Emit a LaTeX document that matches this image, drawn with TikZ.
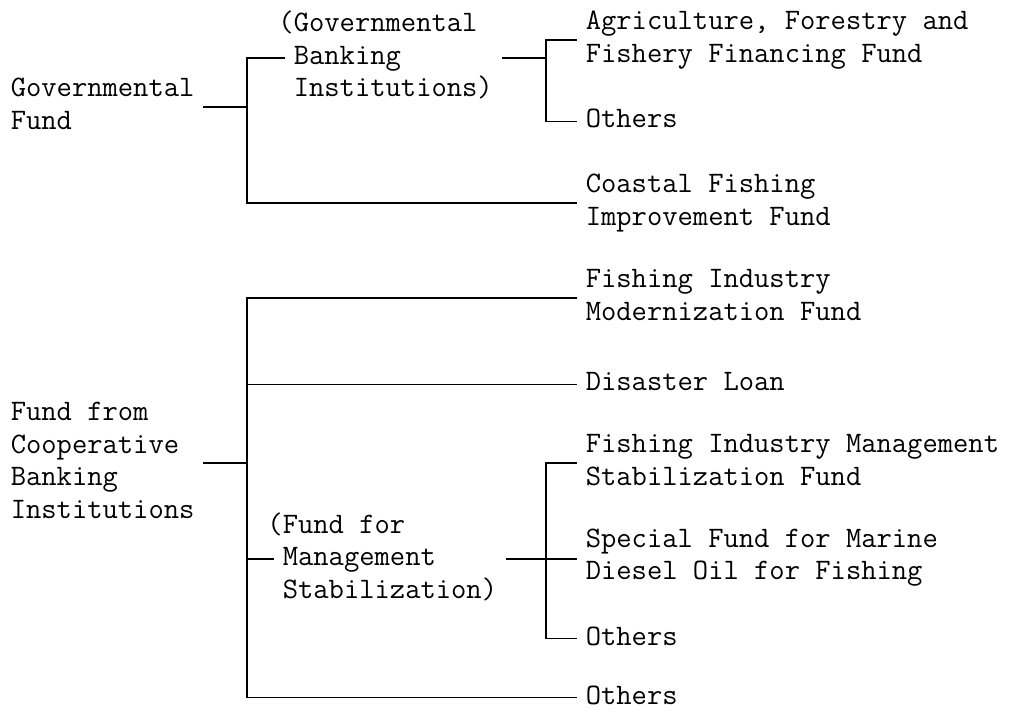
\documentclass[tikz,border=0pt]{standalone}
\usetikzlibrary{positioning}
\newcommand{\rows}[1]{\begin{tabular}[t]{@{}l@{}}#1\end{tabular}}

\begin{document}
\begin{tikzpicture}[
  x=0.5pt, y=-0.5pt, line width=0.8pt,
  lbl/.style={anchor=base west, inner xsep=4pt, inner ysep=0pt,
              font=\fontsize{14.86}{16.25}\selectfont\ttfamily},
]
  \useasboundingbox (0,0) rectangle (1022,715);
  % bracket spines
  \coordinate (s1) at (247,0);  \coordinate (s2) at (546,0);
  \coordinate (s3) at (247,0);  \coordinate (s4) at (546,0);

  % governmental side
  \node[lbl] (gov)     at (2,97)    {\rows{Governmental\\Fund}};
  \node[lbl] (gbi)     at (285,32)  {\rows{\llap{(}Governmental\\Banking\\Institutions)}};
  \node[lbl] (agri)    at (577,30)  {\rows{Agriculture, Forestry and\\Fishery Financing Fund}};
  \node[lbl] (oth1)    at (577,128) {\rows{Others}};
  \node[lbl] (coastal) at (577,193) {\rows{Coastal Fishing\\Improvement Fund}};

  % cooperative side
  \node[lbl] (coop)    at (2,421)   {\rows{Fund from\\Cooperative\\Banking\\Institutions}};
  \node[lbl] (fimf)    at (577,288) {\rows{Fishing Industry\\Modernization Fund}};
  \node[lbl] (loan)    at (577,391) {\rows{Disaster Loan}};
  \node[lbl] (fms)     at (274,533) {\rows{\llap{(}Fund for\\Management\\Stabilization)}};
  \node[lbl] (fims)    at (577,453) {\rows{Fishing Industry Management\\Stabilization Fund}};
  \node[lbl] (oil)     at (577,547) {\rows{Special Fund for Marine\\Diesel Oil for Fishing}};
  \node[lbl] (oth2)    at (577,645) {\rows{Others}};
  \node[lbl] (oth3)    at (577,704) {\rows{Others}};

  \draw (gov.east) -- (gov.east -| s1);
  \draw (gbi.west) -- (gbi.west -| s1) -- (coastal.west -| s1) -- (coastal.west);
  \draw (gbi.east) -- (gbi.east -| s2);
  \draw (agri.west) -- (agri.west -| s2) -- (oth1.west -| s2) -- (oth1.west);

  \draw (coop.east) -- (coop.east -| s3);
  \draw (fimf.west) -- (fimf.west -| s3) -- (oth3.west -| s3) -- (oth3.west);
  \draw (loan.west -| s3) -- (loan.west);
  \draw (fms.west -| s3) -- (fms.west);
  \draw (fms.east) -- (fms.east -| oil.west);
  \draw (fims.west) -- (fims.west -| s4) -- (oth2.west -| s4) -- (oth2.west);
\end{tikzpicture}
\end{document}
